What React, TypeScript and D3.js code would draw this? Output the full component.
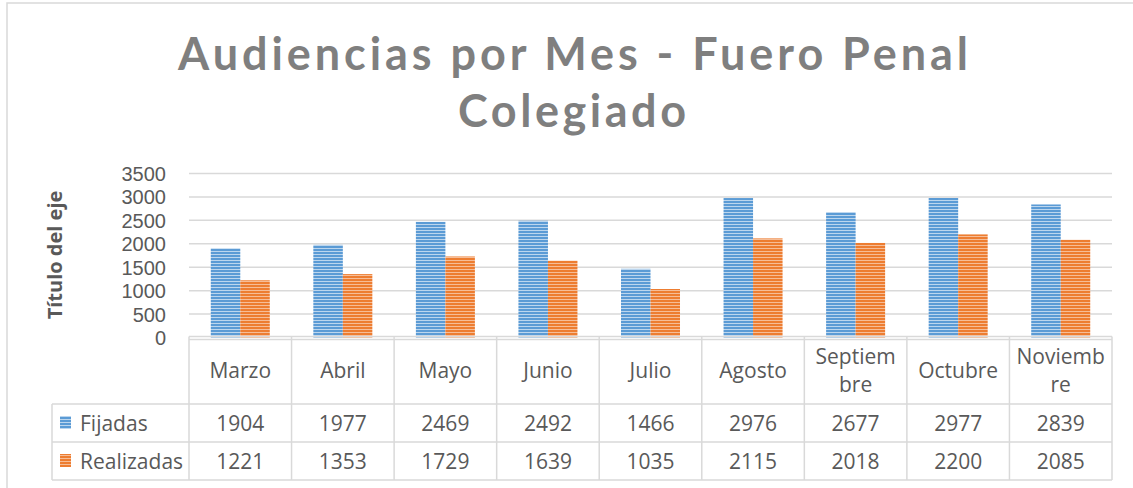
import React, { useMemo } from 'react';
import * as d3 from 'd3';

const categories = ['Marzo', 'Abril', 'Mayo', 'Junio', 'Julio', 'Agosto', 'Septiembre', 'Octubre', 'Noviembre'];
const fijadas = [1904, 1977, 2469, 2492, 1466, 2976, 2677, 2977, 2839];
const realizadas = [1221, 1353, 1729, 1639, 1035, 2115, 2018, 2200, 2085];
const seriesNames = ['Fijadas', 'Realizadas'];
const yTicks = [0, 500, 1000, 1500, 2000, 2500, 3000, 3500];
const titleLines = ['Audiencias por Mes - Fuero Penal', 'Colegiado'];
const axisTitle = 'Título del eje';

const W = 1133;
const H = 488;
const FONT = '"Open Sans", "DejaVu Sans", sans-serif';
const TEXT = '#595959';
const GRID = '#d9d9d9';
const colors = ['#5B9BD5', '#ED7D31'];
const lightColors = ['#bcd6ee', '#f6bd97'];

function measure(text: string, size: number): number {
  try {
    const c = document.createElement('canvas');
    const ctx = c.getContext('2d');
    if (ctx) {
      ctx.font = `${size}px "Open Sans"`;
      return ctx.measureText(text).width;
    }
  } catch (e) {}
  return text.length * size * 0.55;
}

function charWrap(text: string, maxW: number, size: number): string[] {
  if (measure(text, size) <= maxW) return [text];
  const lines: string[] = [];
  let cur = '';
  for (const ch of text) {
    if (cur && measure(cur + ch, size) > maxW) {
      lines.push(cur);
      cur = ch;
    } else cur += ch;
  }
  if (cur) lines.push(cur);
  return lines;
}

export default function App() {
  const plotLeft = 189;
  const plotRight = 1112;
  const yScale = d3.scaleLinear().domain([0, 3500]).range([337.5, 173.5]);
  const x = d3.scaleBand<string>().domain(categories).range([plotLeft, plotRight]).paddingInner(0).paddingOuter(0);
  const bw = x.bandwidth();
  const xs = d3.scaleBand<string>().domain(seriesNames).range([0, bw]).paddingInner(0).paddingOuter(0.738);
  const series = [fijadas, realizadas];

  const headerTop = 339.5;
  const row1 = 404;
  const row2 = 442;
  const row3 = 480;
  const legendLeft = 52;
  const fs = 21;

  const wrapped = useMemo(() => categories.map(c => charWrap(c, bw - 12, fs)), [bw]);

  return (
    <svg width={W} height={H} style={{ position: 'absolute', left: 0, top: 0, background: '#fff' }}>
      <defs>
        {colors.map((c, i) => (
          <pattern key={i} id={`pat${i}`} width={4} height={3} patternUnits="userSpaceOnUse">
            <rect width={4} height={3} fill={lightColors[i]} />
            <rect width={4} height={2} fill={c} />
          </pattern>
        ))}
      </defs>
      <rect x={0} y={0} width={W} height={H} fill="#fff" />
      <rect x={7} y={3} width={1300} height={700} fill="none" stroke={GRID} strokeWidth={1.5} />

      {/* title */}
      <text x={573} y={70} textAnchor="middle" fontFamily="Lato, 'Open Sans', sans-serif" fontWeight={700} fontSize={45}
        fill="#7f7f7f" textLength={790} lengthAdjust="spacing">{titleLines[0]}</text>
      <text x={572} y={127} textAnchor="middle" fontFamily="Lato, 'Open Sans', sans-serif" fontWeight={700} fontSize={45}
        fill="#7f7f7f" textLength={228} lengthAdjust="spacing">{titleLines[1]}</text>

      {/* gridlines */}
      {yTicks.filter(t => t > 0).map(t => (
        <line key={t} x1={plotLeft} x2={plotRight} y1={yScale(t)} y2={yScale(t)} stroke={GRID} strokeWidth={1.5} />
      ))}
      {/* y tick labels */}
      {yTicks.map(t => (
        <text key={t} x={166} y={yScale(t) + 7.5} textAnchor="end" fontFamily='"Liberation Sans", Arial, sans-serif' fontSize={20} fill={TEXT}>{t}</text>
      ))}
      {/* axis title */}
      <text transform="translate(62,255) rotate(-90)" textAnchor="middle" fontFamily={FONT} fontWeight={700} fontSize={20} fill={TEXT}>{axisTitle}</text>

      {/* bars */}
      {series.map((vals, si) => vals.map((v, ci) => (
        <rect key={`${si}-${ci}`} x={(x(categories[ci]) as number) + (xs(seriesNames[si]) as number)} y={yScale(v)}
          width={xs.bandwidth()} height={yScale(0) - yScale(v)} fill={`url(#pat${si})`} />
      )))}

      {/* axis line */}
      <line x1={plotLeft} x2={plotRight} y1={336.5} y2={336.5} stroke={GRID} strokeWidth={1.5} />

      {/* table */}
      <line x1={plotLeft} x2={plotRight} y1={headerTop} y2={headerTop} stroke={GRID} strokeWidth={1.5} />
      {[row1, row2, row3].map(r => (
        <line key={r} x1={legendLeft} x2={plotRight} y1={r} y2={r} stroke={GRID} strokeWidth={1.5} />
      ))}
      <line x1={legendLeft} x2={legendLeft} y1={row1} y2={row3} stroke={GRID} strokeWidth={1.5} />
      {d3.range(categories.length + 1).map(i => (
        <line key={i} x1={plotLeft + i * bw} x2={plotLeft + i * bw} y1={336.5} y2={row3} stroke={GRID} strokeWidth={1.5} />
      ))}

      {/* header labels */}
      {categories.map((c, ci) => {
        const lines = wrapped[ci];
        const cx = (x(c) as number) + bw / 2;
        const lh = 28;
        const base = 378 - ((lines.length - 1) * lh) / 2;
        return lines.map((l, li) => (
          <text key={`${ci}-${li}`} x={cx} y={base + li * lh} textAnchor="middle" fontFamily={FONT} fontSize={fs} fill={TEXT}>{l}</text>
        ));
      })}

      {/* legend column */}
      {seriesNames.map((s, si) => {
        const top = si === 0 ? row1 : row2;
        return (
          <g key={s}>
            <rect x={60} y={top + 12} width={11} height={13} fill={`url(#pat${si})`} />
            <text x={80} y={top + 27} fontFamily={FONT} fontSize={fs} fill={TEXT}>{s}</text>
          </g>
        );
      })}

      {/* values */}
      {series.map((vals, si) => vals.map((v, ci) => (
        <text key={`v${si}-${ci}`} x={(x(categories[ci]) as number) + bw / 2} y={(si === 0 ? row1 : row2) + 27}
          textAnchor="middle" fontFamily={FONT} fontSize={fs} fill={TEXT}>{v}</text>
      )))}
    </svg>
  );
}
